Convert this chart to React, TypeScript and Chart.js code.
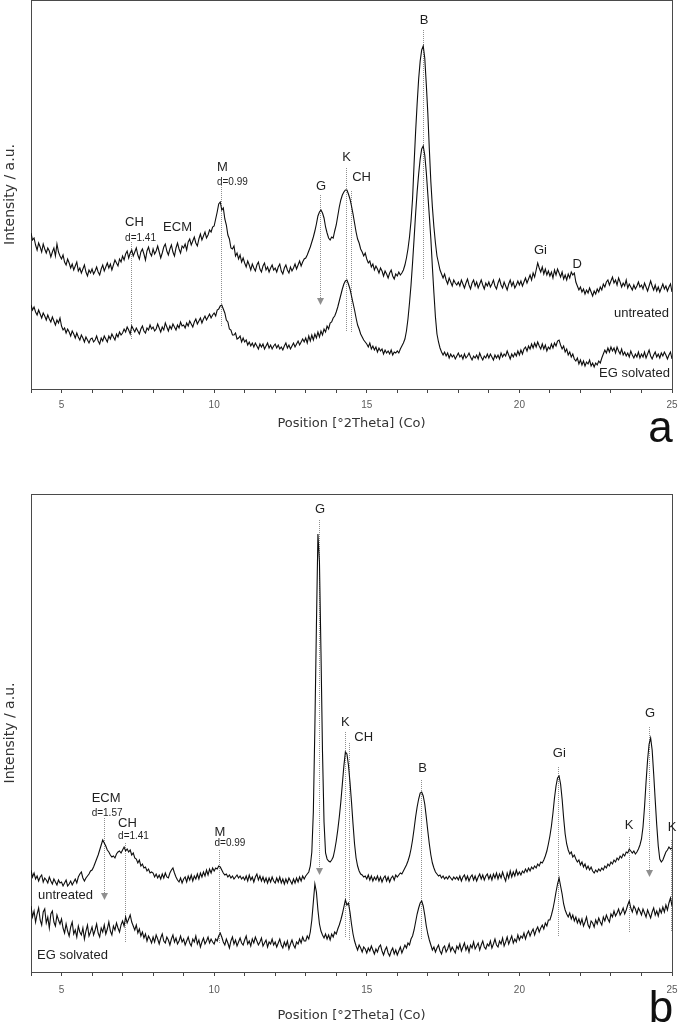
import { useEffect, useRef } from 'react';
import { Chart, registerables } from 'chart.js';

Chart.register(...registerables);

// Scan grid: 4–25 °2θ at a 0.05° step (421 positions per pattern)
const SCAN_START = 4;
const SCAN_STEP = 0.05;
const SCAN_POINTS = 421;
const TWO_THETA: number[] = Array.from({ length: SCAN_POINTS }, (_, i) =>
  Number((SCAN_START + i * SCAN_STEP).toFixed(2))
);

const X_MIN = 4;
const X_MAX = 25;
const LABELED_TICKS = [5, 10, 15, 20, 25];

// Sample a — untreated (intensity, a.u.), one row per degree
const SAMPLE_A_UNTREATED = [
  156, 149, 151, 144, 139, 146, 142, 137, 145, 140, 136, 141, 138, 132, 137, 141, 133, 145, 137, 133,
  130, 134, 127, 124, 130, 126, 121, 125, 119, 123, 127, 118, 121, 116, 120, 124, 117, 113, 119, 116,
  120, 115, 118, 122, 117, 114, 120, 124, 118, 122, 126, 121, 125, 119, 124, 129, 126, 123, 130, 127,
  133, 129, 135, 138, 131, 136, 139, 133, 137, 141, 134, 130, 137, 140, 135, 129, 138, 142, 136, 133,
  140, 135, 138, 143, 137, 131, 136, 142, 145, 138, 134, 140, 144, 137, 133, 141, 146, 140, 136, 143,
  141, 145, 139, 147, 150, 144, 148, 152, 146, 143, 150, 155, 149, 153, 157, 151, 154, 159, 157, 162,
  163, 170, 177, 185, 187, 179, 181, 170, 164, 154, 150, 141, 140, 143, 133, 136, 130, 134, 127, 131,
  126, 122, 128, 124, 119, 125, 121, 118, 124, 127, 120, 117, 123, 126, 119, 122, 117, 121, 124, 119,
  121, 117, 122, 125, 118, 115, 121, 124, 119, 116, 122, 118, 121, 125, 120, 124, 128, 123, 127, 130,
  131, 134, 138, 142, 147, 152, 158, 165, 173, 177, 179, 176, 171, 162, 156, 151, 149, 152, 151, 158,
  164, 173, 182, 189, 194, 197, 199, 199, 195, 190, 183, 175, 166, 157, 150, 146, 140, 137, 133, 136,
  130, 126, 128, 122, 125, 119, 123, 120, 116, 121, 118, 113, 118, 115, 111, 116, 119, 113, 110, 115,
  113, 117, 114, 116, 119, 124, 131, 140, 152, 168, 190, 225, 257, 285, 310, 328, 339, 343, 331, 305,
  276, 240, 207, 182, 162, 146, 133, 126, 119, 115, 111, 115, 109, 105, 111, 107, 103, 109, 106, 104,
  107, 103, 109, 105, 101, 106, 110, 104, 100, 106, 109, 103, 107, 101, 105, 109, 104, 100, 106, 103,
  107, 102, 105, 109, 103, 100, 106, 110, 104, 101, 107, 103, 99, 105, 109, 103, 107, 101, 104, 108,
  104, 108, 103, 107, 111, 106, 110, 114, 109, 116, 112, 119, 126, 121, 117, 122, 115, 120, 114, 118,
  113, 117, 111, 119, 114, 120, 116, 112, 117, 110, 114, 109, 115, 111, 117, 114, 116, 107, 103, 99,
  102, 97, 100, 95, 99, 96, 101, 97, 93, 98, 95, 100, 97, 102, 99, 105, 102, 107, 109, 104,
  108, 112, 106, 109, 104, 111, 107, 102, 106, 103, 109, 101, 105, 102, 99, 104, 100, 103, 107, 102,
  104, 100, 106, 102, 98, 103, 108, 103, 99, 104, 98, 102, 97, 101, 105, 100, 103, 98, 102, 105,
  97,
];

// Sample a — ethylene glycol solvated
const SAMPLE_A_EG = [
  84, 79, 82, 77, 74, 79, 75, 71, 76, 73, 69, 74, 70, 67, 72, 68, 64, 69, 66, 71,
  63, 59, 61, 56, 60, 57, 53, 58, 55, 51, 56, 52, 49, 54, 51, 47, 52, 49, 46, 50,
  51, 47, 49, 53, 48, 45, 51, 48, 53, 50, 47, 53, 50, 55, 52, 49, 55, 52, 57, 54,
  56, 60, 57, 62, 59, 55, 63, 60, 57, 61, 58, 55, 60, 63, 58, 56, 61, 59, 64, 60,
  62, 58, 60, 65, 61, 57, 62, 59, 66, 62, 58, 63, 60, 65, 62, 59, 64, 61, 67, 63,
  64, 61, 66, 63, 68, 65, 62, 67, 70, 65, 68, 71, 66, 70, 73, 69, 72, 75, 71, 74,
  76, 73, 79, 80, 83, 84, 80, 76, 69, 67, 60, 59, 54, 54, 56, 50, 51, 53, 47, 51,
  47, 49, 44, 47, 43, 46, 42, 46, 43, 40, 45, 42, 45, 40, 43, 46, 41, 44, 40, 43,
  45, 41, 44, 40, 42, 39, 43, 46, 41, 44, 40, 43, 46, 42, 45, 48, 44, 47, 50, 47,
  51, 46, 53, 48, 54, 49, 55, 51, 57, 52, 58, 54, 60, 57, 63, 60, 66, 67, 71, 73,
  77, 82, 88, 94, 100, 105, 108, 109, 105, 100, 93, 86, 79, 71, 64, 60, 55, 52, 49, 47,
  45, 42, 46, 40, 43, 39, 42, 37, 41, 38, 40, 35, 39, 36, 38, 35, 39, 34, 37, 36,
  38, 36, 40, 43, 46, 50, 58, 70, 86, 104, 126, 150, 175, 197, 215, 230, 240, 243, 234, 217,
  195, 173, 150, 122, 96, 72, 55, 47, 41, 37, 34, 37, 33, 36, 31, 35, 32, 34, 30, 33,
  36, 32, 34, 30, 35, 31, 33, 36, 32, 29, 33, 31, 34, 30, 36, 32, 29, 33, 31, 35,
  31, 35, 32, 29, 34, 31, 34, 30, 36, 32, 35, 33, 38, 34, 30, 35, 32, 36, 33, 38,
  34, 39, 35, 40, 42, 38, 43, 40, 45, 41, 46, 42, 47, 43, 40, 45, 40, 44, 38, 42,
  40, 45, 41, 46, 43, 48, 49, 44, 40, 43, 37, 40, 34, 37, 32, 35, 30, 28, 31, 25,
  29, 24, 28, 23, 27, 25, 29, 23, 26, 22, 26, 24, 28, 26, 31, 35, 39, 36, 41, 37,
  42, 38, 41, 36, 42, 38, 35, 40, 34, 37, 33, 36, 32, 38, 34, 31, 35, 32, 37, 31,
  35, 32, 37, 31, 35, 39, 33, 30, 34, 37, 32, 35, 31, 36, 33, 37, 34, 30, 34, 37,
  30,
];

// Sample b — untreated
const SAMPLE_B_UNTREATED = [
  102, 95, 99, 93, 96, 91, 95, 97, 90, 94, 92, 89, 95, 91, 88, 93, 90, 87, 92, 89,
  90, 86, 89, 92, 86, 88, 91, 87, 90, 93, 89, 95, 98, 100, 94, 91, 94, 96, 98, 101,
  102, 105, 109, 113, 117, 122, 127, 132, 129, 126, 122, 120, 117, 115, 116, 114, 118, 120, 121, 119,
  122, 125, 121, 123, 120, 122, 117, 119, 114, 113, 109, 112, 106, 108, 104, 105, 101, 103, 99, 100,
  99, 95, 98, 94, 97, 93, 98, 94, 99, 95, 94, 99, 102, 104, 99, 95, 92, 90, 94, 89,
  93, 95, 90, 96, 92, 97, 91, 96, 93, 98, 93, 99, 95, 100, 96, 102, 97, 103, 99, 104,
  101, 104, 103, 106, 105, 102, 99, 97, 98, 95, 97, 94, 96, 93, 95, 97, 94, 96, 93, 95,
  92, 96, 91, 97, 92, 95, 90, 95, 98, 92, 96, 91, 95, 90, 94, 89, 94, 90, 95, 91,
  89, 94, 90, 95, 89, 93, 88, 93, 89, 94, 91, 88, 93, 89, 94, 90, 95, 91, 96, 93,
  96, 98, 100, 106, 120, 160, 245, 345, 438, 410, 320, 220, 150, 119, 113, 111, 110, 112, 115, 122,
  131, 142, 155, 170, 188, 206, 220, 218, 207, 190, 170, 148, 128, 114, 106, 101, 98, 97, 95, 96,
  93, 97, 92, 96, 91, 95, 92, 96, 91, 95, 90, 94, 96, 91, 95, 90, 94, 96, 92, 97,
  95, 97, 99, 98, 101, 104, 107, 111, 116, 123, 132, 143, 155, 165, 173, 179, 180, 176, 168, 155,
  141, 128, 117, 109, 104, 100, 98, 96, 97, 94, 96, 93, 95, 93, 96, 94, 92, 95, 93, 95,
  92, 96, 91, 95, 97, 92, 96, 91, 95, 97, 92, 96, 91, 95, 98, 93, 97, 92, 96, 98,
  93, 97, 92, 98, 94, 99, 93, 98, 94, 100, 95, 91, 99, 94, 101, 95, 100, 96, 102, 97,
  100, 97, 101, 99, 103, 100, 104, 101, 105, 103, 106, 104, 108, 106, 110, 109, 112, 116, 121, 128,
  136, 146, 159, 174, 186, 194, 196, 188, 173, 154, 138, 128, 122, 118, 120, 115, 117, 113, 110, 112,
  107, 110, 105, 108, 103, 106, 102, 105, 101, 99, 102, 100, 103, 101, 104, 102, 106, 104, 108, 106,
  110, 108, 112, 110, 114, 112, 116, 114, 118, 116, 120, 119, 123, 121, 119, 121, 118, 120, 123, 127,
  133, 145, 165, 190, 212, 228, 234, 222, 198, 172, 147, 126, 113, 110, 112, 116, 120, 122, 125, 123,
  124,
];

// Sample b — ethylene glycol solvated
const SAMPLE_B_EG = [
  66, 55, 61, 50, 58, 64, 52, 47, 60, 63, 49, 55, 44, 58, 61, 50, 46, 57, 52, 48,
  53, 44, 39, 48, 41, 36, 45, 50, 38, 42, 35, 46, 40, 37, 44, 33, 41, 47, 36, 40,
  45, 37, 42, 48, 39, 35, 44, 40, 47, 38, 43, 50, 41, 37, 46, 42, 49, 44, 40, 47,
  51, 46, 55, 49, 53, 57, 50, 46, 42, 47, 39, 43, 36, 40, 34, 38, 31, 36, 33, 29,
  35, 30, 37, 33, 28, 34, 38, 31, 29, 35, 32, 27, 33, 37, 30, 34, 28, 31, 36, 30,
  33, 27, 31, 35, 29, 26, 33, 30, 36, 28, 32, 25, 30, 34, 28, 31, 35, 29, 33, 30,
  28, 33, 31, 36, 39, 35, 30, 27, 33, 29, 24, 31, 35, 28, 32, 26, 30, 34, 29, 27,
  32, 36, 28, 31, 26, 33, 29, 35, 31, 27, 30, 34, 26, 29, 32, 25, 30, 28, 33, 27,
  30, 25, 29, 33, 27, 24, 30, 26, 31, 23, 28, 32, 27, 24, 30, 28, 33, 29, 35, 31,
  31, 36, 33, 40, 52, 70, 88, 80, 62, 48, 41, 37, 34, 38, 33, 37, 32, 38, 35, 40,
  38, 43, 47, 52, 58, 65, 72, 67, 69, 60, 48, 38, 31, 26, 22, 27, 24, 20, 25, 23,
  19, 24, 21, 26, 22, 18, 23, 20, 25, 27, 21, 17, 22, 25, 19, 16, 21, 24, 18, 22,
  17, 21, 25, 19, 23, 27, 24, 29, 27, 33, 36, 42, 50, 58, 64, 69, 71, 66, 57, 46,
  38, 32, 27, 22, 25, 20, 24, 27, 21, 18, 24, 26, 20, 23, 28, 21, 25, 22, 19, 26,
  23, 28, 21, 25, 29, 22, 26, 20, 27, 24, 30, 23, 26, 29, 22, 27, 31, 25, 23, 28,
  26, 31, 24, 28, 33, 27, 25, 31, 28, 34, 26, 30, 35, 28, 32, 36, 29, 33, 30, 37,
  32, 36, 34, 39, 33, 38, 41, 36, 40, 43, 37, 42, 45, 40, 44, 47, 43, 49, 46, 52,
  52, 57, 63, 71, 80, 88, 94, 86, 78, 68, 62, 58, 55, 59, 53, 57, 51, 55, 49, 53,
  48, 53, 46, 50, 55, 47, 44, 51, 49, 45, 52, 48, 54, 50, 47, 55, 51, 57, 53, 50,
  58, 55, 61, 56, 59, 63, 57, 60, 64, 58, 62, 67, 71, 64, 60, 66, 63, 58, 64, 61,
  57, 63, 59, 55, 62, 58, 54, 60, 64, 57, 61, 56, 63, 59, 65, 60, 67, 62, 69, 74,
  66,
];

const SERIES_NAMES = ['untreated', 'EG solvated'];

// Phase markers: label anchor and dotted guide line, in (°2θ, intensity) units
type Marker = {
  text: string;
  sub?: string;
  x?: number;
  labelX: number;
  labelY: number;
  subY?: number;
  lineTop?: number;
  lineBottom?: number;
  arrow?: boolean;
};

type Note = { text: string; x: number; y: number; align: CanvasTextAlign };

const MARKERS_A: Marker[] = [
  { text: 'CH', sub: 'd=1.41', x: 7.28, labelX: 7.39, labelY: 167, subY: 151, lineTop: 147, lineBottom: 49 },
  { text: 'ECM', labelX: 8.8, labelY: 161.5 },
  { text: 'M', sub: 'd=0.99', x: 10.23, labelX: 10.27, labelY: 222, subY: 207, lineTop: 204, lineBottom: 62 },
  { text: 'G', x: 13.47, labelX: 13.5, labelY: 203, lineTop: 194, lineBottom: 84, arrow: true },
  { text: 'K', x: 14.31, labelX: 14.34, labelY: 231.5, lineTop: 221, lineBottom: 57 },
  { text: 'CH', x: 14.48, labelX: 14.83, labelY: 211.5, lineTop: 198, lineBottom: 56 },
  { text: 'B', x: 16.84, labelX: 16.875, labelY: 369, lineTop: 359, lineBottom: 110 },
  { text: 'Gi', labelX: 20.69, labelY: 139 },
  { text: 'D', labelX: 21.89, labelY: 125 },
];

const NOTES_A: Note[] = [
  { text: SERIES_NAMES[0], x: 24.9, y: 76, align: 'right' },
  { text: SERIES_NAMES[1], x: 24.93, y: 16, align: 'right' },
];

const MARKERS_B: Marker[] = [
  { text: 'ECM', sub: 'd=1.57', x: 6.4, labelX: 6.46, labelY: 174, subY: 159, lineTop: 154, lineBottom: 72, arrow: true },
  { text: 'CH', sub: 'd=1.41', x: 7.08, labelX: 7.16, labelY: 149, subY: 135.5, lineTop: 129, lineBottom: 30 },
  { text: 'M', sub: 'd=0.99', x: 10.17, labelX: 10.19, labelY: 140, subY: 128.5, lineTop: 122, lineBottom: 29 },
  { text: 'G', x: 13.435, labelX: 13.47, labelY: 463, lineTop: 452, lineBottom: 97, arrow: true },
  { text: 'K', x: 14.29, labelX: 14.3, labelY: 250, lineTop: 240, lineBottom: 34 },
  { text: 'CH', x: 14.42, labelX: 14.9, labelY: 235, lineTop: 229, lineBottom: 32 },
  { text: 'B', x: 16.78, labelX: 16.83, labelY: 204, lineTop: 192, lineBottom: 32 },
  { text: 'Gi', x: 21.28, labelX: 21.31, labelY: 219, lineTop: 205, lineBottom: 35 },
  { text: 'K', x: 23.6, labelX: 23.59, labelY: 147, lineTop: 135, lineBottom: 40 },
  { text: 'G', x: 24.26, labelX: 24.28, labelY: 259, lineTop: 245, lineBottom: 95, arrow: true },
  { text: 'K', x: 24.98, labelX: 25.0, labelY: 145, lineTop: 132, lineBottom: 40 },
];

const NOTES_B: Note[] = [
  { text: SERIES_NAMES[0], x: 4.23, y: 77, align: 'left' },
  { text: SERIES_NAMES[1], x: 4.2, y: 17, align: 'left' },
];

const SANS = '"Liberation Sans", Arial, sans-serif';
const TITLE_FONT = '"DejaVu Sans", Verdana, sans-serif';

function makeAnnotations(markers: Marker[], notes: Note[], letter: string, letterX: number, letterY: number) {
  return {
    id: 'xrdAnnotations',
    beforeDatasetsDraw(chart: any) {
      const { ctx, chartArea: a } = chart;
      const xs = chart.scales.x;
      const ys = chart.scales.y;
      ctx.save();
      // plot frame
      ctx.strokeStyle = '#4a4a4a';
      ctx.lineWidth = 1;
      ctx.setLineDash([]);
      ctx.strokeRect(a.left + 0.5, a.top + 0.5, a.right - a.left, a.bottom - a.top);
      // dotted guides and arrows
      ctx.strokeStyle = '#8f8f8f';
      ctx.fillStyle = '#8f8f8f';
      for (const m of markers) {
        if (m.x === undefined || m.lineTop === undefined || m.lineBottom === undefined) continue;
        const px = Math.round(xs.getPixelForValue(m.x)) + 0.5;
        const y0 = ys.getPixelForValue(m.lineTop);
        const y1 = ys.getPixelForValue(m.lineBottom);
        ctx.setLineDash([1, 1]);
        ctx.beginPath();
        ctx.moveTo(px, y0);
        ctx.lineTo(px, m.arrow ? y1 - 6 : y1);
        ctx.stroke();
        if (m.arrow) {
          ctx.setLineDash([]);
          ctx.beginPath();
          ctx.moveTo(px - 3.5, y1 - 7);
          ctx.lineTo(px + 3.5, y1 - 7);
          ctx.lineTo(px, y1);
          ctx.closePath();
          ctx.fill();
        }
      }
      ctx.restore();
    },
    afterDatasetsDraw(chart: any) {
      const { ctx } = chart;
      const xs = chart.scales.x;
      const ys = chart.scales.y;
      ctx.save();
      ctx.fillStyle = '#1f1f1f';
      ctx.textBaseline = 'middle';
      for (const m of markers) {
        const cx = xs.getPixelForValue(m.labelX);
        const cy = ys.getPixelForValue(m.labelY);
        ctx.font = `13px ${SANS}`;
        ctx.textAlign = 'center';
        ctx.fillText(m.text, cx, cy);
        if (m.sub && m.subY !== undefined) {
          const w = ctx.measureText(m.text).width;
          ctx.font = `10px ${SANS}`;
          ctx.textAlign = 'left';
          ctx.fillText(m.sub, cx - w / 2, ys.getPixelForValue(m.subY));
        }
      }
      ctx.font = `13px ${SANS}`;
      for (const n of notes) {
        ctx.textAlign = n.align;
        ctx.fillText(n.text, xs.getPixelForValue(n.x), ys.getPixelForValue(n.y));
      }
      ctx.font = `44px ${SANS}`;
      ctx.textAlign = 'center';
      ctx.textBaseline = 'alphabetic';
      ctx.fillStyle = '#111';
      ctx.fillText(letter, letterX, letterY);
      ctx.restore();
    },
  };
}

interface PanelProps {
  top: number;
  height: number;
  plotTop: number;
  plotBottom: number;
  yMax: number;
  untreated: number[];
  solvated: number[];
  markers: Marker[];
  notes: Note[];
  letter: string;
  letterX: number;
  letterY: number;
  tickPadding: number;
  titlePadBottom: number;
}

function XrdPanel(p: PanelProps) {
  const ref = useRef<HTMLCanvasElement>(null);

  useEffect(() => {
    const canvas = ref.current;
    if (!canvas) return;
    const lineStyle = {
      borderColor: '#0d0d0d',
      borderWidth: 1.1,
      pointRadius: 0,
      tension: 0,
      fill: false,
    };
    const chart = new Chart(canvas, {
      type: 'line',
      data: {
        labels: TWO_THETA,
        datasets: [
          { label: SERIES_NAMES[0], data: p.untreated, ...lineStyle },
          { label: SERIES_NAMES[1], data: p.solvated, ...lineStyle },
        ],
      },
      options: {
        responsive: false,
        animation: false,
        devicePixelRatio: 1,
        events: [],
        layout: { padding: { left: 0, right: 6, top: p.plotTop, bottom: 0 } },
        plugins: { legend: { display: false }, tooltip: { enabled: false } },
        scales: {
          x: {
            type: 'linear',
            min: X_MIN,
            max: X_MAX,
            ticks: {
              stepSize: 1,
              autoSkip: false,
              maxRotation: 0,
              padding: p.tickPadding,
              color: '#5a5a5a',
              font: { size: 10, family: SANS },
              callback: (v: any) => (LABELED_TICKS.includes(Number(v)) ? String(v) : ''),
            },
            grid: {
              display: true,
              drawOnChartArea: false,
              drawTicks: true,
              tickLength: 4,
              tickColor: '#444',
              color: '#444',
            },
            border: { display: false },
            title: {
              display: true,
              text: 'Position [°2Theta] (Co)',
              color: '#333',
              font: { size: 13, family: TITLE_FONT },
              padding: { top: 0, bottom: p.titlePadBottom },
            },
            afterFit: (s: any) => {
              s.height = p.height - p.plotBottom;
              // edge labels may overhang; keep the plot edges fixed
              s.paddingLeft = 0;
              s.paddingRight = 0;
            },
          },
          y: {
            type: 'linear',
            min: 0,
            max: p.yMax,
            ticks: { display: false },
            grid: { display: false },
            border: { display: false },
            title: {
              display: true,
              text: 'Intensity / a.u.',
              color: '#333',
              font: { size: 14, family: TITLE_FONT },
              padding: { top: 1.5, bottom: 0 },
            },
            afterFit: (s: any) => {
              s.width = 31;
              s.paddingTop = 0;
              s.paddingBottom = 0;
            },
          },
        },
      },
      plugins: [makeAnnotations(p.markers, p.notes, p.letter, p.letterX, p.letterY)],
    } as any);
    return () => chart.destroy();
  }, []);

  return (
    <canvas
      ref={ref}
      width={678}
      height={p.height}
      style={{ position: 'absolute', left: 0, top: p.top, width: 678, height: p.height, display: 'block' }}
    />
  );
}

export default function App() {
  return (
    <div
      style={{
        position: 'absolute',
        left: 0,
        top: 0,
        width: 678,
        height: 1026,
        background: '#fff',
        overflow: 'hidden',
      }}
    >
      <XrdPanel
        top={0}
        height={460}
        plotTop={0}
        plotBottom={389}
        yMax={389}
        untreated={SAMPLE_A_UNTREATED}
        solvated={SAMPLE_A_EG}
        markers={MARKERS_A}
        notes={NOTES_A}
        letter="a"
        letterX={660.5}
        letterY={442}
        tickPadding={6}
        titlePadBottom={29}
      />
      <XrdPanel
        top={460}
        height={566}
        plotTop={34}
        plotBottom={512}
        yMax={478}
        untreated={SAMPLE_B_UNTREATED}
        solvated={SAMPLE_B_EG}
        markers={MARKERS_B}
        notes={NOTES_B}
        letter="b"
        letterX={661}
        letterY={562}
        tickPadding={8}
        titlePadBottom={3}
      />
    </div>
  );
}
